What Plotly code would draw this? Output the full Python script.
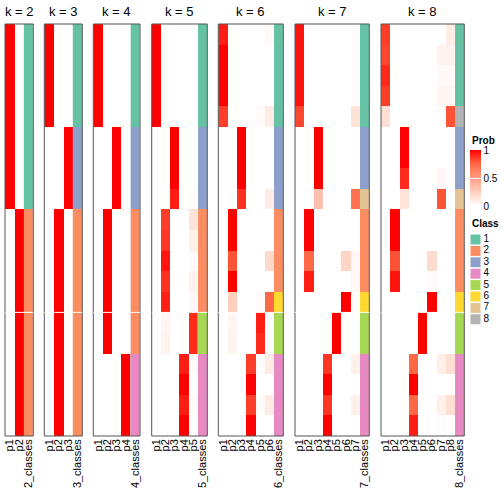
import plotly.graph_objects as go

# ---------------- data ----------------
ks = [2, 3, 4, 5, 6, 7, 8]
rows = list(range(20))

prob_k2 = [
    [1, 0], [1, 0], [1, 0], [1, 0], [1, 0], [1, 0], [1, 0], [1, 0], [1, 0],
    [0, 1], [0, 1], [0, 1], [0, 1], [0, 1], [0, 1], [0, 1], [0, 1], [0, 1], [0, 1], [0, 1],
]
class_k2 = [1, 1, 1, 1, 1, 1, 1, 1, 1, 2, 2, 2, 2, 2, 2, 2, 2, 2, 2, 2]

prob_k3 = [
    [1, 0, 0], [1, 0, 0], [1, 0, 0], [1, 0, 0], [1, 0, 0],
    [0, 0, 1], [0, 0, 1], [0, 0, 1], [0, 0, 1],
    [0, 1, 0], [0, 1, 0], [0, 1, 0], [0, 1, 0], [0, 1, 0], [0, 1, 0],
    [0, 1, 0], [0, 1, 0], [0, 1, 0], [0, 1, 0], [0, 1, 0],
]
class_k3 = [1, 1, 1, 1, 1, 3, 3, 3, 3, 2, 2, 2, 2, 2, 2, 2, 2, 2, 2, 2]

prob_k4 = [
    [1, 0, 0, 0], [1, 0, 0, 0], [1, 0, 0, 0], [1, 0, 0, 0], [1, 0, 0, 0],
    [0, 0, 1, 0], [0, 0, 1, 0], [0, 0, 1, 0], [0, 0, 1, 0],
    [0, 1, 0, 0], [0, 1, 0, 0], [0, 1, 0, 0], [0, 1, 0, 0], [0, 1, 0, 0],
    [0, 1, 0, 0], [0, 1, 0, 0],
    [0, 0, 0, 1], [0, 0, 0, 1], [0, 0, 0, 1], [0, 0, 0, 1],
]
class_k4 = [1, 1, 1, 1, 1, 3, 3, 3, 3, 2, 2, 2, 2, 2, 2, 2, 4, 4, 4, 4]

prob_k5 = [
    [1, 0, 0, 0, 0], [1, 0, 0, 0, 0], [1, 0, 0, 0, 0], [1, 0, 0, 0, 0], [1, 0, 0, 0, 0],
    [0, 0, 1, 0, 0], [0, 0, 1, 0, 0], [0, 0, 1, 0, 0], [0, 0, 0.93, 0, 0.02],
    [0, 0.85, 0, 0, 0.15], [0, 0.87, 0, 0, 0.08], [0, 0.95, 0, 0, 0.02],
    [0, 0.88, 0, 0, 0.06], [0, 0.92, 0, 0, 0.04],
    [0, 0.05, 0, 0, 0.9], [0, 0.06, 0, 0, 0.9],
    [0, 0, 0, 0.93, 0.02], [0, 0, 0, 1, 0], [0, 0, 0, 0.93, 0.02], [0, 0, 0, 1, 0],
]
class_k5 = [1, 1, 1, 1, 1, 3, 3, 3, 3, 2, 2, 2, 2, 2, 5, 5, 4, 4, 4, 4]

prob_k6 = [
    [0.93, 0, 0, 0, 0, 0.03], [1, 0, 0, 0, 0, 0], [1, 0, 0, 0, 0, 0], [1, 0, 0, 0, 0, 0],
    [0.85, 0, 0, 0, 0.02, 0.1],
    [0, 0, 1, 0, 0, 0], [0, 0, 1, 0, 0, 0], [0, 0, 1, 0, 0, 0], [0, 0, 0.88, 0, 0, 0.1],
    [0, 1, 0, 0, 0, 0], [0, 1, 0, 0, 0, 0], [0, 0.8, 0, 0, 0, 0.2], [0, 1, 0, 0, 0, 0],
    [0, 0.25, 0, 0, 0.02, 0.75],
    [0, 0.05, 0, 0, 0.93, 0], [0, 0.06, 0, 0, 0.9, 0],
    [0, 0, 0, 0.85, 0.02, 0.1], [0, 0, 0, 1, 0, 0], [0, 0, 0, 0.85, 0.02, 0.1], [0, 0, 0, 1, 0, 0],
]
class_k6 = [1, 1, 1, 1, 1, 3, 3, 3, 3, 2, 2, 2, 2, 6, 5, 5, 4, 4, 4, 4]

prob_k7 = [
    [0.95, 0, 0, 0, 0, 0, 0.02], [0.95, 0, 0, 0, 0, 0, 0.02], [0.95, 0, 0, 0, 0, 0, 0.02],
    [0.95, 0, 0, 0, 0, 0, 0.02], [0.83, 0, 0, 0, 0, 0, 0.15],
    [0, 0, 1, 0, 0, 0, 0], [0, 0, 1, 0, 0, 0, 0], [0, 0, 1, 0, 0, 0, 0], [0, 0, 0.32, 0, 0, 0, 0.7],
    [0, 1, 0, 0, 0, 0, 0], [0, 1, 0, 0, 0, 0, 0], [0, 0.75, 0, 0, 0, 0.22, 0.04],
    [0, 0.93, 0, 0, 0, 0, 0.03], [0, 0, 0, 0, 0, 1, 0],
    [0, 0, 0, 0, 1, 0, 0], [0, 0, 0, 0, 1, 0, 0],
    [0, 0, 0, 0.87, 0, 0, 0.08], [0, 0, 0, 1, 0, 0, 0], [0, 0, 0, 0.87, 0, 0, 0.08], [0, 0, 0, 1, 0, 0, 0],
]
class_k7 = [1, 1, 1, 1, 1, 3, 3, 3, 7, 2, 2, 2, 2, 6, 5, 5, 4, 4, 4, 4]

prob_k8 = [
    [0.85, 0, 0, 0, 0, 0, 0, 0.1], [0.83, 0, 0, 0, 0, 0, 0.06, 0.06],
    [0.9, 0, 0, 0, 0, 0, 0.03, 0.03], [0.85, 0, 0, 0, 0, 0, 0.05, 0.05],
    [0.17, 0, 0, 0, 0, 0, 0, 0.8],
    [0, 0, 1, 0, 0, 0, 0, 0], [0, 0, 1, 0, 0, 0, 0, 0], [0, 0, 0.9, 0, 0, 0, 0.04, 0],
    [0, 0, 0.15, 0, 0, 0, 0.8, 0],
    [0, 1, 0, 0, 0, 0, 0, 0], [0, 1, 0, 0, 0, 0, 0, 0], [0, 0.8, 0, 0, 0, 0.18, 0, 0],
    [0, 0.95, 0, 0, 0, 0.02, 0, 0], [0, 0, 0, 0, 0, 1, 0, 0],
    [0, 0, 0, 0, 1, 0, 0, 0], [0, 0, 0, 0, 1, 0, 0, 0],
    [0, 0, 0, 0.75, 0, 0, 0.08, 0.17], [0, 0, 0, 1, 0, 0, 0, 0],
    [0, 0, 0, 0.75, 0, 0, 0.08, 0.17], [0, 0, 0, 0.93, 0, 0, 0.02, 0],
]
class_k8 = [1, 1, 1, 1, 8, 3, 3, 3, 7, 2, 2, 2, 2, 6, 5, 5, 4, 4, 4, 4]

probs = {2: prob_k2, 3: prob_k3, 4: prob_k4, 5: prob_k5, 6: prob_k6, 7: prob_k7, 8: prob_k8}
classes = {2: class_k2, 3: class_k3, 4: class_k4, 5: class_k5, 6: class_k6, 7: class_k7, 8: class_k8}

class_ids = [1, 2, 3, 4, 5, 6, 7, 8]
class_colors = ["#66C2A5", "#FC8D62", "#8DA0CB", "#E78AC3", "#A6D854", "#FFD92F", "#E5C494", "#B3B3B3"]
prob_ticks = [0, 0.5, 1]

# ---------------- layout helpers ----------------
W = H = 504
panel_px = [(5, 33.3), (44.3, 82.3), (93.3, 140), (151.7, 207.3),
            (218.3, 283.3), (295, 369.3), (381, 464.3)]
top_px, bot_px = 24, 436
FONT = "Liberation Sans"

prob_scale = [[0, "#FFFFFF"], [0.25, "#FFCFBE"], [0.5, "#FF9E81"], [0.75, "#FF6846"], [1, "#FF0000"]]
class_scale = []
n = len(class_colors)
for i, c in enumerate(class_colors):
    class_scale.append([i / n, c])
    class_scale.append([(i + 1) / n, c])

fig = go.Figure()
shapes = []
annotations = []
layout_axes = {}

for idx, k in enumerate(ks):
    ax = "" if idx == 0 else str(idx + 1)
    xname = "x" + ax
    cols = [f"p{j + 1}" for j in range(k)]
    col_pos = list(range(k))
    cls_name = f"{k}_classes"
    fig.add_trace(go.Heatmap(
        z=probs[k], x=col_pos, y=rows, coloraxis="coloraxis",
        xaxis=xname, yaxis="y", hoverinfo="skip"))
    fig.add_trace(go.Heatmap(
        z=[[c] for c in classes[k]], x0=k, dx=1, y=rows,
        colorscale=class_scale, zmin=0.5, zmax=8.5, showscale=False,
        xaxis=xname, yaxis="y", hoverinfo="skip"))
    x0, x1 = panel_px[idx]
    layout_axes["xaxis" + ax] = dict(
        domain=[x0 / W, x1 / W], anchor="y", range=[-0.5, k + 0.5],
        tickmode="array", tickvals=col_pos + [k], ticktext=cols + [cls_name],
        showgrid=False, zeroline=False, showline=False, ticks="",
        tickangle=-90, tickfont=dict(size=11, color="black", family=FONT),
        fixedrange=True)
    shapes.append(dict(type="rect", xref=xname + " domain", yref="y domain",
                       x0=0, x1=1, y0=0, y1=1, line=dict(color="#555555", width=1),
                       layer="above"))
    shapes.append(dict(type="line", xref=xname + " domain", yref="y",
                       x0=0, x1=1, y0=13.5, y1=13.5, line=dict(color="white", width=1),
                       layer="above"))
    annotations.append(dict(text=f"k = {k}", x=(x0 + x1) / 2 / W, y=1 - 11 / H,
                            xref="paper", yref="paper", xanchor="center", yanchor="middle",
                            showarrow=False, font=dict(size=13, color="black", family=FONT)))

# class legend drawn as a small scatter on hidden axes
fig.add_trace(go.Scatter(
    x=[0] * len(class_ids), y=class_ids, mode="markers+text",
    text=[str(c) for c in class_ids], textposition="middle right",
    textfont=dict(size=10, color="black", family=FONT),
    marker=dict(symbol="square", size=11, color=class_colors, line=dict(color="white", width=1)),
    xaxis="x8", yaxis="y8", hoverinfo="skip", showlegend=False, cliponaxis=False))

leg_top, leg_bot = 233.8, 325
layout_axes["xaxis8"] = dict(domain=[470 / W, 1.0], anchor="y8", range=[-0.55, 2.85],
                             visible=False, fixedrange=True)
layout_axes["yaxis8"] = dict(domain=[1 - leg_bot / H, 1 - leg_top / H], anchor="x8",
                             range=[8.5, 0.5], visible=False, fixedrange=True)

annotations.append(dict(text="<b>Prob</b>", x=470 / W, y=1 - 140 / H, xref="paper", yref="paper",
                        xanchor="left", yanchor="middle", showarrow=False,
                        font=dict(size=10, color="black", family=FONT)))
annotations.append(dict(text="<b>Class</b>", x=470 / W, y=1 - 223.5 / H, xref="paper", yref="paper",
                        xanchor="left", yanchor="middle", showarrow=False,
                        font=dict(size=10, color="black", family=FONT)))

fig.update_layout(
    width=W, height=H, margin=dict(l=0, r=0, t=0, b=0, autoexpand=False),
    paper_bgcolor="white", plot_bgcolor="white", showlegend=False,
    font=dict(family=FONT, color="black"),
    yaxis=dict(domain=[1 - bot_px / H, 1 - top_px / H], range=[19.5, -0.5],
               visible=False, fixedrange=True),
    coloraxis=dict(
        colorscale=prob_scale, cmin=0, cmax=1,
        colorbar=dict(x=470 / W, xanchor="left", xpad=0, y=1 - 178 / H, yanchor="middle", ypad=0,
                      len=56, lenmode="pixels", thickness=11, thicknessmode="pixels",
                      outlinewidth=0, tickvals=prob_ticks, ticktext=[str(t) for t in prob_ticks],
                      ticks="inside", ticklen=11, tickcolor="white", tickwidth=1,
                      tickfont=dict(size=10, color="black", family=FONT))),
    shapes=shapes, annotations=annotations,
    **layout_axes,
)

fig.write_html("out.html", config={"displayModeBar": False, "staticPlot": True},
               post_script="document.body.style.margin='0';")
